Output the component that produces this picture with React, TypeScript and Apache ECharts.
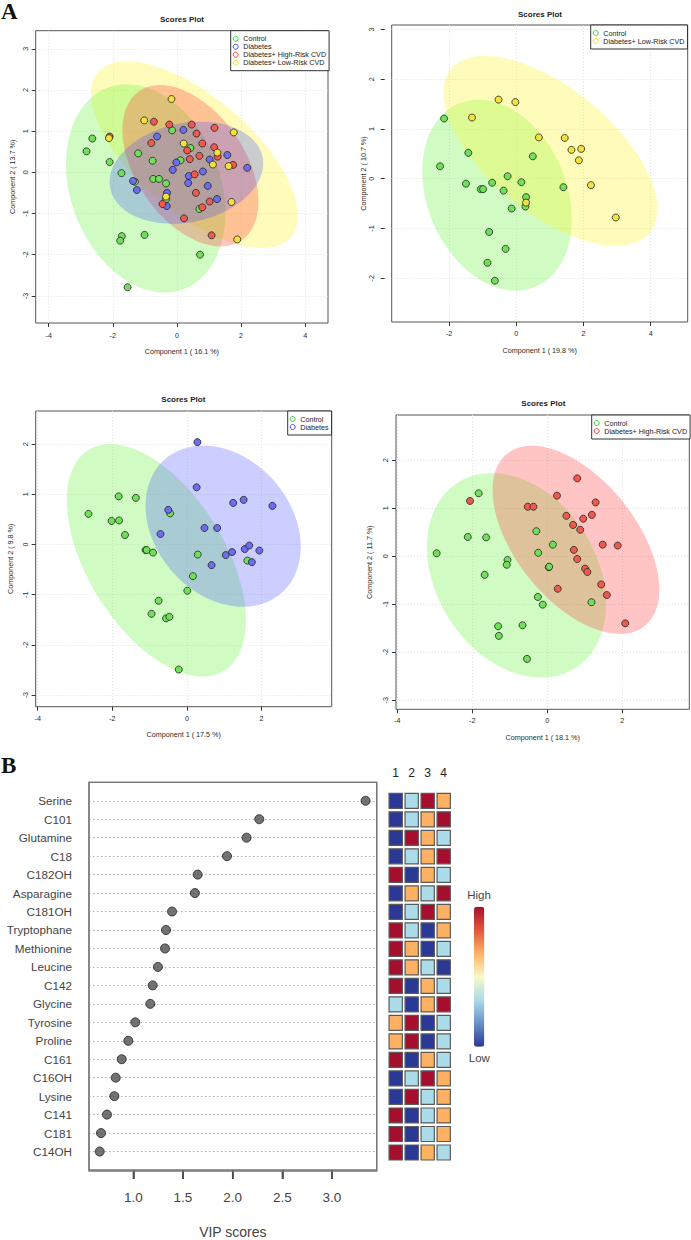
import React, { useEffect, useRef } from 'react';
import * as echarts from 'echarts';

// ---------------- DATA ----------------
// Panel A (top-left): all four groups
const a1Control = [[-2.64,0.82],[-2.82,0.51],[-2.10,0.25],[-1.73,-0.02],[-1.21,0.46],[-1.31,-0.23],[-0.76,0.28],[-0.74,-0.16],[-0.56,-0.16],[-0.34,-0.27],[-0.34,-0.65],[-0.15,1.02],[0.11,0.29],[0.42,0.59],[0.70,-0.89],[0.72,-2.00],[-1.72,-1.55],[-1.77,-1.66],[-1.01,-1.52],[-1.54,-2.79]];
const a1Diabetes = [[-0.62,0.87],[0.20,1.03],[-0.02,0.24],[-0.13,0.06],[-1.37,-0.21],[-1.25,-0.43],[-0.31,-0.50],[-0.32,-0.82],[0.37,-0.09],[0.35,-0.26],[0.81,0.02],[1.02,0.31],[0.96,-0.33],[1.25,-0.65],[1.57,0.42],[2.19,0.11]];
const a1High = [[-0.72,1.23],[-0.24,1.16],[0.46,1.16],[1.17,1.08],[0.61,0.94],[-0.80,0.71],[0.79,0.70],[0.32,0.53],[1.16,0.61],[1.27,0.38],[0.70,0.40],[0.40,0.32],[0.55,-0.05],[1.75,0.18],[0.59,-0.50],[1.02,-0.71],[0.79,-0.85],[-0.45,-0.77],[0.22,-1.12],[1.08,-1.53],[-2.10,0.87]];
const a1Low = [[-0.17,1.78],[-1.02,1.26],[-2.12,0.83],[0.21,0.70],[1.26,0.48],[1.12,0.19],[1.61,0.15],[1.77,0.97],[1.70,-0.72],[1.88,-1.63],[-0.34,-0.59]];
// ellipses: [xMin, xMax, yMin, yMax, x at top]
const a1EllControl = [-3.46, 1.51, -2.92, 2.14, -1.56];
const a1EllDiabetes = [-2.10, 2.69, -1.25, 1.23, 0.73];
const a1EllHigh = [-1.70, 2.54, -1.80, 2.12, -0.52];
const a1EllLow = [-2.68, 3.77, -1.84, 2.70, -1.56];

// Panel A (top-right): Control vs Low-Risk
const a2Control = [[-2.15,1.21],[-2.27,0.25],[-1.43,0.52],[-1.50,-0.10],[-1.06,-0.21],[-0.99,-0.21],[-0.72,-0.08],[-0.38,-0.24],[-0.26,0.05],[0.15,-0.07],[0.29,-0.37],[0.27,-0.56],[-0.14,-0.60],[0.49,0.45],[1.40,-0.17],[-0.81,-1.07],[-0.32,-1.41],[-0.86,-1.69],[-0.64,-2.05]];
const a2Low = [[-0.53,1.59],[-0.03,1.54],[-1.32,1.23],[0.67,0.83],[1.44,0.82],[1.64,0.58],[1.93,0.60],[1.86,0.37],[2.22,-0.13],[2.96,-0.78],[0.29,-0.48]];
const a2EllControl = [-2.80, 1.65, -2.25, 1.59, -1.13];
const a2EllLow = [-2.17, 4.20, -1.35, 2.47, -0.93];

// Panel A (bottom-left): Control vs Diabetes
const a3Control = [[-2.64,0.61],[-1.83,0.96],[-1.37,0.93],[-2.02,0.47],[-1.82,0.48],[-1.66,0.19],[-1.11,-0.11],[-1.08,-0.11],[-0.91,-0.16],[-0.45,0.62],[0.29,-0.20],[0.16,-0.63],[0.01,-0.92],[-0.76,-1.12],[-0.95,-1.38],[-0.56,-1.47],[-0.47,-1.44],[-0.22,-2.49],[1.62,-0.32]];
const a3Diabetes = [[0.28,2.04],[0.26,1.14],[-0.50,0.69],[-0.71,0.21],[0.47,0.33],[0.81,0.33],[1.24,0.83],[1.52,0.89],[2.29,0.77],[0.66,-0.41],[1.04,-0.21],[1.21,-0.15],[1.55,-0.09],[1.67,-0.02],[1.94,-0.12],[1.74,-0.35]];
const a3EllControl = [-3.22, 1.58, -2.63, 2.00, -2.06];
const a3EllDiabetes = [-1.11, 3.05, -1.24, 1.97, 0.44];

// Panel A (bottom-right): Control vs High-Risk
const a4Control = [[-2.95,0.06],[-1.83,1.31],[-2.12,0.40],[-1.63,0.39],[-1.67,-0.39],[-1.06,-0.08],[-1.08,-0.18],[-0.29,0.52],[-0.24,0.07],[0.15,0.24],[0.04,-0.23],[0.05,-0.22],[-0.25,-0.85],[-0.12,-1.01],[1.18,-0.96],[-1.31,-1.46],[-1.29,-1.66],[-0.66,-1.44],[-0.54,-2.14]];
const a4High = [[-2.06,1.15],[-0.52,1.03],[-0.37,1.03],[0.26,1.26],[0.80,1.62],[1.29,1.12],[1.19,0.86],[0.51,0.84],[0.96,0.78],[0.69,0.65],[0.88,0.55],[1.48,0.24],[1.88,0.22],[0.71,0.13],[0.80,-0.06],[1.01,-0.26],[1.07,-0.33],[0.28,-0.68],[1.44,-0.59],[1.59,-0.81],[2.08,-1.40]];
const a4EllControl = [-3.21, 1.57, -2.53, 1.73, -1.48];
const a4EllHigh = [-1.46, 2.99, -1.62, 2.30, -0.41];

// Panel B
const vipNames = ['Serine','C101','Glutamine','C18','C182OH','Asparagine','C181OH','Tryptophane','Methionine','Leucine','C142','Glycine','Tyrosine','Proline','C161','C16OH','Lysine','C141','C181','C14OH'];
const vipScores = [3.338,2.268,2.14,1.943,1.648,1.62,1.39,1.329,1.319,1.248,1.195,1.171,1.02,0.95,0.883,0.823,0.809,0.735,0.675,0.662];
const vipTicks = [1.0,1.5,2.0,2.5,3.0];
const heatColumns = ['1','2','3','4'];
const heatLevels = [[1,2,4,3],[1,2,3,4],[1,4,3,2],[1,2,3,4],[4,1,3,2],[1,3,2,4],[1,2,4,3],[4,2,1,3],[4,3,1,2],[4,3,2,1],[4,1,3,2],[2,1,3,4],[3,4,1,2],[3,4,1,2],[4,1,3,2],[1,2,4,3],[1,4,2,3],[4,1,2,3],[4,1,2,3],[4,1,3,2]];

// ---------------- STYLE ----------------
const SANS = '"Liberation Sans", Arial, sans-serif';
const GROUP_STYLE: Record<string, { fill: string; legend: string; ellipse: string }> = {
  'Control': { fill: '#70e05a', legend: '#3ad43a', ellipse: 'rgba(100,245,60,0.3)' },
  'Diabetes': { fill: '#6d6df0', legend: '#4a4af0', ellipse: 'rgba(70,80,255,0.28)' },
  'Diabetes+ High-Risk CVD': { fill: '#ef5a50', legend: '#f04848', ellipse: 'rgba(255,60,60,0.3)' },
  'Diabetes+ Low-Risk CVD': { fill: '#f2e23a', legend: '#f0e020', ellipse: 'rgba(255,245,30,0.3)' },
};

const panels = [
  {
    grid: { left: 35.7, top: 30.7, width: 292.3, height: 292.3 },
    x: [-4.405, 4.71], y: [-3.66, 3.44], xTicks: [-4, -2, 0, 2, 4], yTicks: [-3, -2, -1, 0, 1, 2, 3],
    xName: 'Component 1 ( 16.1 %)', yName: 'Component 2 ( 13.7 %)', title: [182, 19],
    legend: { left: 230.7, top: 30.7 }, xLabelMargin: 9, xNameGap: 25, yOffset: 0, yLabelMargin: 7, yNameGap: 20,
    groups: [['Control', a1Control], ['Diabetes', a1Diabetes], ['Diabetes+ High-Risk CVD', a1High], ['Diabetes+ Low-Risk CVD', a1Low]],
    ellipses: [['Diabetes+ Low-Risk CVD', a1EllLow], ['Control', a1EllControl], ['Diabetes+ High-Risk CVD', a1EllHigh], ['Diabetes', a1EllDiabetes]],
  },
  {
    grid: { left: 391.7, top: 25, width: 296, height: 297 },
    x: [-3.71, 5.1], y: [-2.88, 3.09], xTicks: [-2, 0, 2, 4], yTicks: [-2, -1, 0, 1, 2, 3],
    xName: 'Component 1 ( 19.8 %)', yName: 'Component 2 ( 10.7 %)', title: [540, 14],
    legend: { left: 590.7, top: 25 }, xLabelMargin: 8.4, xNameGap: 25.4, yOffset: 7, yLabelMargin: 9.5, yNameGap: 15,
    groups: [['Control', a2Control], ['Diabetes+ Low-Risk CVD', a2Low]],
    ellipses: [['Control', a2EllControl], ['Diabetes+ Low-Risk CVD', a2EllLow]],
  },
  {
    grid: { left: 35.7, top: 411, width: 296, height: 295.7 },
    x: [-4.054, 3.88], y: [-3.23, 2.66], xTicks: [-4, -2, 0, 2], yTicks: [-3, -2, -1, 0, 1, 2],
    xName: 'Component 1 ( 17.5 %)', yName: 'Component 2 ( 9.8 %)', title: [183.3, 399.3],
    legend: { left: 287.7, top: 411 }, xLabelMargin: 8.7, xNameGap: 24.7, yOffset: 0, yLabelMargin: 7, yNameGap: 21.7,
    groups: [['Control', a3Control], ['Diabetes', a3Diabetes]],
    ellipses: [['Control', a3EllControl], ['Diabetes', a3EllDiabetes]],
  },
  {
    grid: { left: 396, top: 415, width: 293.3, height: 294.3 },
    x: [-4.035, 3.79], y: [-3.19, 2.94], xTicks: [-4, -2, 0, 2], yTicks: [-3, -2, -1, 0, 1, 2],
    xName: 'Component 1 ( 18.1 %)', yName: 'Component 2 ( 11.7 %)', title: [543.3, 403.3],
    legend: { left: 591.7, top: 415 }, xLabelMargin: 7.8, xNameGap: 24.8, yOffset: 0, yLabelMargin: 7, yNameGap: 23,
    groups: [['Control', a4Control], ['Diabetes+ High-Risk CVD', a4High]],
    ellipses: [['Control', a4EllControl], ['Diabetes+ High-Risk CVD', a4EllHigh]],
  },
];

function ellipseRender(color: string) {
  return (params: any, api: any) => {
    const xMin = api.value(0), xMax = api.value(1), yMin = api.value(2), yMax = api.value(3), xTop = api.value(4);
    const cx = (xMin + xMax) / 2, A = (xMax - xMin) / 2;
    const cy = (yMin + yMax) / 2, B = (yMax - yMin) / 2;
    const phi = Math.acos(Math.max(-1, Math.min(1, (xTop - cx) / A)));
    const pts: number[][] = [];
    const n = 120;
    for (let i = 0; i < n; i++) {
      const t = (i / n) * Math.PI * 2;
      pts.push(api.coord([cx + A * Math.cos(t), cy + B * Math.cos(t - phi)]));
    }
    return { type: 'polygon', shape: { points: pts }, style: { fill: color } };
  };
}

function buildOption() {
  const grid: any[] = [], xAxis: any[] = [], yAxis: any[] = [], series: any[] = [], legend: any[] = [];
  const graphic: any[] = [];
  const axisText = { fontFamily: SANS, fontSize: 7.2, color: '#2a2a2a' };

  panels.forEach((p, i) => {
    grid.push({ ...p.grid, show: true, borderColor: '#555', borderWidth: 1, backgroundColor: 'transparent' });
    xAxis.push({
      type: 'value', gridIndex: i, min: p.x[0], max: p.x[1],
      name: p.xName, nameLocation: 'middle', nameGap: p.xNameGap, nameTextStyle: { ...axisText },
      axisLine: { show: false, onZero: false },
      axisTick: { show: true, length: 4, customValues: p.xTicks, lineStyle: { color: '#333', width: 1 } },
      axisLabel: { customValues: p.xTicks, margin: p.xLabelMargin, ...axisText, formatter: (v: number) => String(v) },
      splitLine: { show: true, lineStyle: { color: '#e2e2e2', type: [1, 2], width: 1 } },
    });
    yAxis.push({
      type: 'value', gridIndex: i, min: p.y[0], max: p.y[1], offset: p.yOffset,
      name: p.yName, nameLocation: 'middle', nameGap: p.yNameGap, nameRotate: 90, nameTextStyle: { ...axisText },
      axisLine: { show: false, onZero: false },
      axisTick: { show: true, length: 4, customValues: p.yTicks, lineStyle: { color: '#333', width: 1 } },
      axisLabel: { customValues: p.yTicks, rotate: 90, margin: p.yLabelMargin, ...axisText, formatter: (v: number) => String(v) },
      splitLine: { show: true, lineStyle: { color: '#e2e2e2', type: [1, 2], width: 1 } },
    });
    (p.ellipses as any[]).forEach(([name, e]) => {
      series.push({
        type: 'custom', name: name + ' region', xAxisIndex: i, yAxisIndex: i, silent: true, clip: true, z: 1,
        data: [e], encode: { x: [0, 1], y: [2, 3] },
        renderItem: ellipseRender(GROUP_STYLE[name].ellipse),
      });
    });
    (p.groups as any[]).forEach(([name, d]) => {
      series.push({
        type: 'scatter', name, xAxisIndex: i, yAxisIndex: i, data: d, symbolSize: 7, z: 3,
        itemStyle: { color: GROUP_STYLE[name].fill, borderColor: '#222', borderWidth: 0.8, opacity: 1 },
      });
    });
    legend.push({
      left: p.legend.left, top: p.legend.top, orient: 'vertical', selectedMode: false,
      backgroundColor: '#fff', borderColor: '#333', borderWidth: 1, borderRadius: 0,
      padding: [4, 3, 4, 2], itemGap: 0, itemWidth: 5, itemHeight: 5, icon: 'circle',
      textStyle: { fontFamily: SANS, fontSize: 7.2, color: '#222', lineHeight: 8 },
      data: (p.groups as any[]).map(([name]) => ({
        name, icon: 'circle',
        itemStyle: { color: 'rgba(0,0,0,0)', borderColor: GROUP_STYLE[name].legend, borderWidth: 1 },
      })),
      z: 10,
    });
    graphic.push({
      type: 'text', x: p.title[0], y: p.title[1], z: 10,
      style: { text: 'Scores Plot', fontFamily: SANS, fontSize: 8, fontWeight: 'bold', fill: '#222', align: 'center', verticalAlign: 'middle', textAlign: 'center', textVerticalAlign: 'middle' },
    });
  });

  // VIP dot plot (row k is drawn at y = last - k so that the first name is on top)
  const last = vipNames.length - 1;
  const vipGrid = grid.length;
  const vipBox = { left: 89, top: 782.3, width: 287.7, height: 388.7 };
  grid.push({ ...vipBox, show: true, borderColor: '#777', borderWidth: 1.3 });
  xAxis.push({
    type: 'value', gridIndex: vipGrid, min: 0.554, max: 3.45,
    name: 'VIP scores', nameLocation: 'middle', nameGap: 55,
    nameTextStyle: { fontFamily: SANS, fontSize: 14, color: '#444' },
    axisLine: { show: false, onZero: false },
    axisTick: { show: true, length: 9, customValues: vipTicks, lineStyle: { color: '#333', width: 1.5 } },
    axisLabel: { customValues: vipTicks, margin: 20, fontFamily: SANS, fontSize: 13.5, color: '#444', formatter: (v: number) => v.toFixed(1) },
    splitLine: { show: false },
  });
  yAxis.push({
    type: 'value', gridIndex: vipGrid, min: -1, max: last + 1, interval: 1,
    axisLine: { show: false, onZero: false }, axisTick: { show: false },
    axisLabel: { margin: 17, fontFamily: SANS, fontSize: 11.7, color: '#444', formatter: (v: number) => vipNames[last - Math.round(v)] ?? '' },
    splitLine: { show: true, lineStyle: { color: '#b0b0b0', type: [1.5, 2.5], width: 1 } },
  });
  series.push({
    type: 'scatter', name: 'VIP', xAxisIndex: vipGrid, yAxisIndex: vipGrid, symbolSize: 9, z: 3,
    data: vipScores.map((v, k) => [v, last - k]),
    itemStyle: { color: '#505050', borderColor: '#1e1e1e', borderWidth: 1 },
  });
  // tick marks below the VIP box, placed through the x scale at the bottom edge
  series.push({
    type: 'scatter', name: 'VIP ticks', xAxisIndex: vipGrid, yAxisIndex: vipGrid, silent: true, clip: false, z: 4,
    data: vipTicks.map((t) => [t, -1]), symbol: 'rect', symbolSize: [1.4, 8], symbolOffset: [0, 5],
    itemStyle: { color: '#444' },
  });

  // heat squares
  const heatGrid = grid.length;
  grid.push({ left: 387.7, top: 782.3, width: 64, height: 388.7, show: false });
  xAxis.push({
    type: 'value', gridIndex: heatGrid, min: 0.5, max: 4.5, position: 'top',
    axisLine: { show: false, onZero: false }, axisTick: { show: false }, splitLine: { show: false },
    axisLabel: { customValues: [1, 2, 3, 4], margin: 3, fontFamily: SANS, fontSize: 12, color: '#222', formatter: (v: number) => heatColumns[Math.round(v) - 1] ?? '' },
  });
  yAxis.push({ type: 'value', gridIndex: heatGrid, min: -1, max: last + 1, show: false });
  const heatData: number[][] = [];
  heatLevels.forEach((row, r) => row.forEach((lv, c) => heatData.push([c + 1, last - r, lv])));
  const heatSeriesIndex = series.length;
  series.push({
    type: 'custom', name: 'levels', xAxisIndex: heatGrid, yAxisIndex: heatGrid, z: 3,
    data: heatData, encode: { x: 0, y: 1 },
    renderItem: (params: any, api: any) => {
      const c = api.coord([api.value(0), api.value(1)]);
      const s = api.size([1, 1]);
      const w = s[0] * 0.83, h = s[1] * 0.81;
      return {
        type: 'rect', shape: { x: c[0] - w / 2, y: c[1] - h / 2, width: w, height: h },
        style: { fill: api.visual('color'), stroke: '#5a5a5a', lineWidth: 1.2 },
      };
    },
  });

  graphic.push(
    { type: 'rect', z: 50, silent: true, shape: { x: vipBox.left, y: vipBox.top, width: vipBox.width, height: vipBox.height }, style: { fill: 'none', stroke: '#777', lineWidth: 1.3 } },
    { type: 'text', x: 1, y: 11.2, style: { text: 'A', fontFamily: '"Liberation Serif", serif', fontSize: 23, fontWeight: 'bold', fill: '#111', align: 'left', verticalAlign: 'middle', textAlign: 'left', textVerticalAlign: 'middle' } },
    { type: 'text', x: 1, y: 765, style: { text: 'B', fontFamily: '"Liberation Serif", serif', fontSize: 23, fontWeight: 'bold', fill: '#111', align: 'left', verticalAlign: 'middle', textAlign: 'left', textVerticalAlign: 'middle' } },
    { type: 'text', x: 479, y: 895, style: { text: 'High', fontFamily: SANS, fontSize: 11.5, fill: '#444', align: 'center', verticalAlign: 'middle', textAlign: 'center', textVerticalAlign: 'middle' } },
    { type: 'text', x: 479.3, y: 1058.3, style: { text: 'Low', fontFamily: SANS, fontSize: 11.5, fill: '#444', align: 'center', verticalAlign: 'middle', textAlign: 'center', textVerticalAlign: 'middle' } },
  );

  return {
    animation: false,
    backgroundColor: '#fff',
    grid, xAxis, yAxis, series, legend, graphic,
    visualMap: {
      type: 'continuous', seriesIndex: heatSeriesIndex, dimension: 2, min: 1, max: 4,
      calculable: false, orient: 'vertical', left: 474, top: 906.7, itemWidth: 10.3, itemHeight: 140,
      padding: 0, showLabel: false, hoverLink: false,
      inRange: { color: ['#2c3896', '#6b90c6', '#acdbe9', '#f8f9c8', '#fdb163', '#e2583c', '#a50f2d'] },
    },
  };
}

export default function App() {
  const ref = useRef<HTMLDivElement>(null);
  useEffect(() => {
    const chart = echarts.init(ref.current!, null, { renderer: 'svg' });
    chart.setOption(buildOption() as any);
    return () => chart.dispose();
  }, []);
  return <div ref={ref} style={{ position: 'absolute', left: 0, top: 0, width: 691, height: 1240, background: '#fff' }} />;
}
